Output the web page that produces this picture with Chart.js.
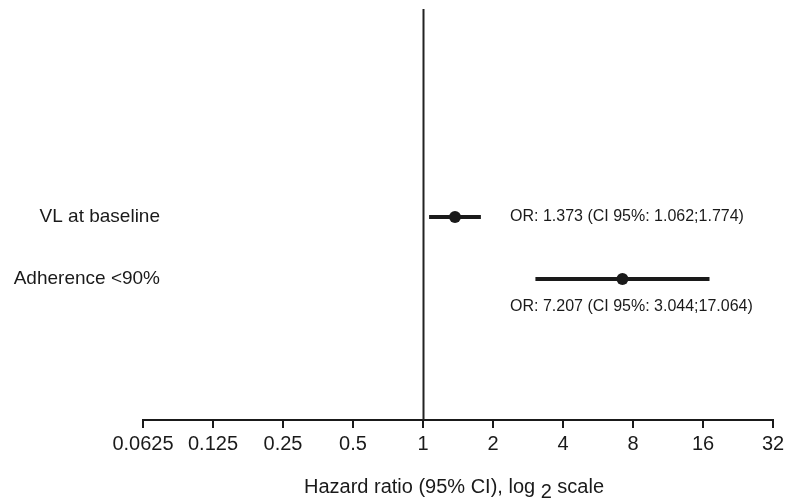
<!DOCTYPE html>
<html>
<head>
<meta charset="utf-8">
<script src="https://cdn.jsdelivr.net/npm/chart.js@4.4.1/dist/chart.umd.min.js"></script>
<style>
  html, body { margin: 0; padding: 0; background: #fff; }
  #wrap { width: 799px; height: 499px; position: relative; }
</style>
</head>
<body>
<div id="wrap"><canvas id="c"></canvas></div>
<script>
const categories = ['VL at baseline', 'Adherence <90%'];
const rowIndex = [1, 2];
const estimates = [1.373, 7.207];
const lower = [1.062, 3.044];
const upper = [1.774, 17.064];
const tickValues = [0.0625, 0.125, 0.25, 0.5, 1, 2, 4, 8, 16, 32];
const tickLabels = ['0.0625', '0.125', '0.25', '0.5', '1', '2', '4', '8', '16', '32'];
const annotations = ['OR: 1.373 (CI 95%: 1.062;1.774)', 'OR: 7.207 (CI 95%: 3.044;17.064)'];
const referenceValue = 1;

const FONT = '"Liberation Sans", Arial, sans-serif';
const INK = '#1a1a1a';

const datasets = [];
categories.forEach((c, i) => {
  datasets.push({
    type: 'scatter',
    label: c + ' CI',
    data: [{x: lower[i], y: rowIndex[i]}, {x: upper[i], y: rowIndex[i]}],
    showLine: true,
    borderColor: INK,
    borderWidth: 4,
    pointRadius: 0,
    borderCapStyle: 'butt'
  });
});
datasets.push({
  type: 'scatter',
  label: 'Estimate',
  data: categories.map((c, i) => ({x: estimates[i], y: rowIndex[i]})),
  pointRadius: 6,
  pointBackgroundColor: INK,
  pointBorderColor: INK,
  borderWidth: 0
});

const forestPlugin = {
  id: 'forest',
  beforeDatasetsDraw(chart) {
    const ctx = chart.ctx, xs = chart.scales.x, area = chart.chartArea;
    const px = Math.round(xs.getPixelForValue(referenceValue)) + 0.5;
    ctx.save();
    ctx.strokeStyle = '#222';
    ctx.lineWidth = 2;
    ctx.beginPath();
    ctx.moveTo(px, area.top);
    ctx.lineTo(px, area.bottom);
    ctx.stroke();
    ctx.restore();
  },
  afterDraw(chart) {
    const ctx = chart.ctx, xs = chart.scales.x, ys = chart.scales.y;
    ctx.save();
    ctx.fillStyle = INK;
    ctx.textBaseline = 'middle';
    // row labels
    ctx.font = '19px ' + FONT;
    ctx.textAlign = 'right';
    categories.forEach((c, i) => {
      ctx.fillText(c, 160, ys.getPixelForValue(rowIndex[i]));
    });
    // annotations
    ctx.font = '16px ' + FONT;
    ctx.textAlign = 'left';
    const ax = xs.getPixelForValue(referenceValue) + 87;
    annotations.forEach((t, i) => {
      const y = ys.getPixelForValue(rowIndex[i]) + (i === 1 ? 28 : 0);
      ctx.fillText(t, ax, y);
    });
    // axis title with lowered 2
    ctx.font = '20px ' + FONT;
    const p1 = 'Hazard ratio (95% CI), log ';
    const p2 = '2';
    const p3 = ' scale';
    const w1 = ctx.measureText(p1).width, w2 = ctx.measureText(p2).width, w3 = ctx.measureText(p3).width;
    const cx = (chart.chartArea.left + chart.chartArea.right) / 2 - 4;
    const x0 = cx - (w1 + w2 + w3) / 2;
    const ty = 487;
    ctx.fillText(p1, x0, ty);
    ctx.fillText(p2, x0 + w1, ty + 5);
    ctx.fillText(p3, x0 + w1 + w2, ty);
    ctx.restore();
  }
};

new Chart(document.getElementById('c'), {
  type: 'scatter',
  data: { datasets },
  options: {
    responsive: true,
    maintainAspectRatio: false,
    animation: false,
    layout: { padding: { left: 143, right: 26, top: 9, bottom: 0 } },
    plugins: { legend: { display: false }, tooltip: { enabled: false } },
    scales: {
      x: {
        type: 'logarithmic',
        min: 0.0625,
        max: 32,
        afterBuildTicks: s => { s.ticks = tickValues.map(v => ({ value: v })); },
        afterFit: s => { s.height = 79; },
        ticks: {
          autoSkip: false,
          maxRotation: 0,
          color: INK,
          padding: 4,
          font: { family: FONT, size: 20 },
          callback: (v, i) => tickLabels[i]
        },
        grid: { drawOnChartArea: false, drawTicks: true, tickLength: 8, color: INK, lineWidth: 2 },
        border: { display: true, color: INK, width: 2 }
      },
      y: {
        type: 'linear',
        reverse: true,
        min: -2.355,
        max: 4.275,
        display: false
      }
    }
  },
  plugins: [forestPlugin]
});
</script>
</body>
</html>
